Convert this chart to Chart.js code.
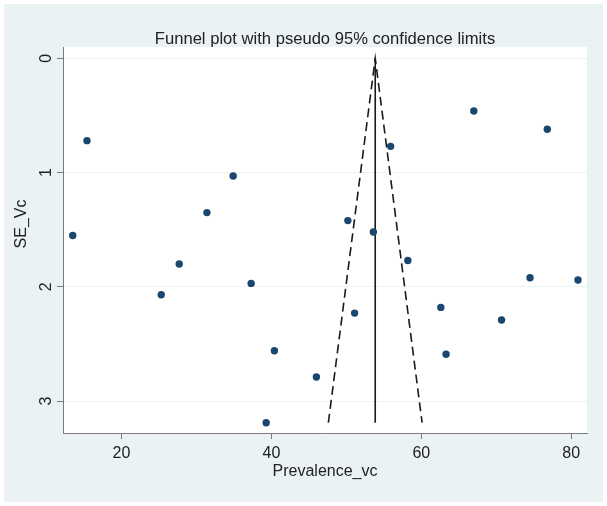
<!DOCTYPE html>
<html>
<head>
<meta charset="utf-8">
<title>Funnel plot</title>
<script src="https://cdn.jsdelivr.net/npm/chart.js@4.4.1/dist/chart.umd.min.js"></script>
<style>
  html, body { margin: 0; padding: 0; background: #ffffff; }
  #wrap { position: relative; width: 607px; height: 506px; }
</style>
</head>
<body>
<div id="wrap"><canvas id="funnel-chart"></canvas></div>
<script>
// Study data
var prevalence = [15.4, 13.5, 34.9, 31.4, 27.7, 25.3, 37.3, 40.4, 39.3, 46.0, 50.2,
                  51.1, 53.6, 55.9, 58.2, 62.6, 63.3, 67.0, 70.7, 74.5, 76.8, 80.9];
var seVc = [0.72, 1.55, 1.03, 1.35, 1.80, 2.07, 1.97, 2.56, 3.19, 2.79, 1.42,
            2.23, 1.52, 0.77, 1.77, 2.18, 2.59, 0.46, 2.29, 1.92, 0.62, 1.94];
var pooledPrev = 53.85;
var xTicks = [20, 40, 60, 80];
var yTicks = [0, 1, 2, 3];

var bgColor = "#eaf2f3";
var axisColor = "#7b7b7b";
var fontFamily = "'Liberation Sans', Arial, sans-serif";

var points = prevalence.map(function (p, i) { return { x: p, y: seVc[i] }; });
var maxSE = Math.max.apply(null, seVc);
var limits = [
    { x: pooledPrev - 1.96 * maxSE, y: maxSE },
    { x: pooledPrev, y: 0 },
    { x: pooledPrev + 1.96 * maxSE, y: maxSE }
];
var centreLine = [{ x: pooledPrev, y: 0 }, { x: pooledPrev, y: maxSE }];

// background, plot region and the extra texts
var stataLook = {
    id: "stataLook",
    beforeDraw: function (chart) {
        var c = chart.ctx, a = chart.chartArea;
        c.save();
        c.fillStyle = "#ffffff";
        c.fillRect(0, 0, chart.width, chart.height);
        c.fillStyle = bgColor;
        c.fillRect(4, 4, chart.width - 8, chart.height - 8);
        c.fillStyle = "#ffffff";
        c.fillRect(a.left, a.top, a.right - a.left, a.bottom - a.top);
        c.restore();
    },
    afterDraw: function (chart) {
        var c = chart.ctx, a = chart.chartArea;
        c.save();
        c.fillStyle = "#222222";
        c.font = "16.6px " + fontFamily;
        c.textAlign = "center";
        c.textBaseline = "alphabetic";
        c.fillText("Funnel plot with pseudo 95% confidence limits", (a.left + a.right) / 2, 44);
        c.font = "16px " + fontFamily;
        c.translate(22, 224);
        c.rotate(-Math.PI / 2);
        c.textBaseline = "middle";
        c.fillText("SE_Vc", 0, 0);
        c.restore();
    }
};

var ctx = document.getElementById("funnel-chart");

var chartData = {
    datasets: [
        {
            label: "Studies",
            data: points,
            backgroundColor: "#1a476f",
            borderColor: "#1a476f",
            pointRadius: 3.7,
            pointBorderWidth: 0,
            order: 0
        },
        {
            label: "Pseudo 95% limits",
            data: limits,
            showLine: true,
            borderColor: "#1a1a1a",
            borderWidth: 1.6,
            borderDash: [9, 5],
            pointRadius: 0,
            fill: false,
            order: 1
        },
        {
            label: "Pooled",
            data: centreLine,
            showLine: true,
            borderColor: "#1a1a1a",
            borderWidth: 1.6,
            pointRadius: 0,
            fill: false,
            order: 1
        }
    ]
};

var chartOptions = {
    responsive: true,
    maintainAspectRatio: false,
    animation: false,
    layout: { padding: { top: 47, right: 20, left: 0, bottom: 0 } },
    plugins: {
        legend: { display: false },
        title: { display: false },
        tooltip: { enabled: false }
    },
    scales: {
        x: {
            type: "linear",
            min: 12.2,
            max: 82.1,
            afterBuildTicks: function (scale) {
                scale.ticks = xTicks.map(function (v) { return { value: v }; });
            },
            afterFit: function (scale) { scale.height = 73; },
            grid: {
                drawOnChartArea: false,
                drawTicks: true,
                tickLength: 6,
                tickColor: axisColor
            },
            border: { display: true, color: axisColor, width: 1 },
            ticks: {
                color: "#222222",
                padding: 5,
                maxRotation: 0,
                font: { family: fontFamily, size: 16 }
            },
            title: {
                display: true,
                text: "Prevalence_vc",
                color: "#222222",
                font: { family: fontFamily, size: 16 },
                padding: { top: 0, bottom: 25 }
            }
        },
        y: {
            type: "linear",
            reverse: true,
            min: -0.1,
            max: 3.28,
            afterBuildTicks: function (scale) {
                scale.ticks = yTicks.map(function (v) { return { value: v }; });
            },
            afterFit: function (scale) { scale.width = 63; },
            grid: {
                color: bgColor,
                lineWidth: 1,
                drawTicks: true,
                tickLength: 6,
                tickColor: axisColor
            },
            border: { display: true, color: axisColor, width: 1 },
            ticks: {
                color: "#222222",
                padding: 6,
                minRotation: 90,
                maxRotation: 90,
                crossAlign: "center",
                font: { family: fontFamily, size: 16 }
            }
        }
    }
};

var funnelChart = new Chart(ctx, {
    type: "scatter",
    data: chartData,
    options: chartOptions,
    plugins: [stataLook]
});
</script>
</body>
</html>
